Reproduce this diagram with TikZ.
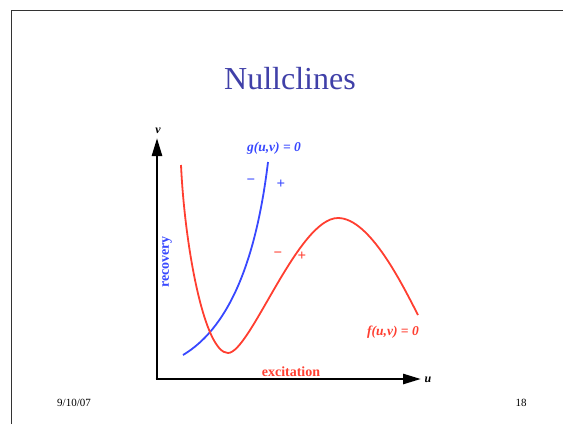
\documentclass[tikz,border=0pt]{standalone}
\usepackage{fontspec}
\setmainfont{Liberation Serif}
\usepackage{xcolor}
\usepackage{tikz}
\usetikzlibrary{arrows.meta}
\definecolor{ntitleblue}{RGB}{64,64,168}
\definecolor{nblue}{RGB}{56,72,255}
\definecolor{nred}{RGB}{255,62,48}
\tikzset{
  nframe/.style={draw=black!80, line width=0.9pt},
  ntitle/.style={font=\fontsize{32}{36}\selectfont, text=ntitleblue, inner sep=0pt},
  naxis/.style={line width=2.6pt, -{Triangle[length=18pt,width=10pt]}},
  naxlabel/.style={font=\fontsize{12}{13}\selectfont\bfseries\itshape, inner sep=0pt},
  ngcurve/.style={draw=nblue, line width=1.8pt},
  nfcurve/.style={draw=nred, line width=1.8pt},
  neqlabel/.style={font=\fontsize{13.5}{15}\selectfont\bfseries\itshape, inner sep=0pt},
  nsign/.style={font=\fontsize{15}{16}\selectfont\bfseries, inner sep=0pt},
  nvarlabel/.style={font=\fontsize{14}{16}\selectfont\bfseries, inner sep=0pt},
  nfoot/.style={font=\fontsize{11}{12}\selectfont, inner sep=0pt}
}

\begin{document}
\begin{tikzpicture}[x=1pt,y=-1pt]
\useasboundingbox (0,0) rectangle (563,424);
\draw[nframe] (11,424) -- (11,10) -- (563,10);

\node[ntitle] (title) at (290,79) {Nullclines};

% axes
\coordinate (origin) at (157,379);
\coordinate (vtip) at (157,138);
\coordinate (utip) at (421,379);
\draw[naxis] ([xshift=-1.3pt]origin) -- (utip);
\draw[naxis] ([yshift=1.3pt]origin) -- (vtip);
\node[naxlabel] (vlab) at (158,131) {v};
\node[naxlabel] (ulab) at (428,380) {u};

% nullclines
\coordinate (gstart) at (183,355);
\coordinate (gend) at (268,162);
\draw[ngcurve] (gstart) .. controls (225,330) and (255,270) .. (gend);

\coordinate (fstart) at (181,165);
\coordinate (fmin) at (228,353);
\coordinate (fmax) at (338,218);
\coordinate (fend) at (418,315);
\draw[nfcurve] (fstart) .. controls (185,250) and (205,353) .. (fmin)
  .. controls (250,353) and (298,218) .. (fmax)
  .. controls (370,218) and (403,286) .. (fend);

\node[neqlabel, text=nblue] (glab) at (274,148) {g(u,v) = 0};
\node[neqlabel, text=nred] (flab) at (393,332) {f(u,v) = 0};

\node[nsign, text=nblue] (gminus) at (251,182) {\char"2212};
\node[nsign, text=nblue] (gplus) at (281,184) {+};
\node[nsign, text=nred] (fminus) at (278,255) {\char"2212};
\node[nsign, text=nred] (fplus) at (302,256) {+};

\node[nvarlabel, text=nblue, rotate=90] (recov) at (167,262) {recovery};
\node[nvarlabel, text=nred] (excit) at (291,372) {excitation};

\node[nfoot] (date) at (74,403) {9/10/07};
\node[nfoot] (page) at (521,403) {18};
\end{tikzpicture}
\end{document}
